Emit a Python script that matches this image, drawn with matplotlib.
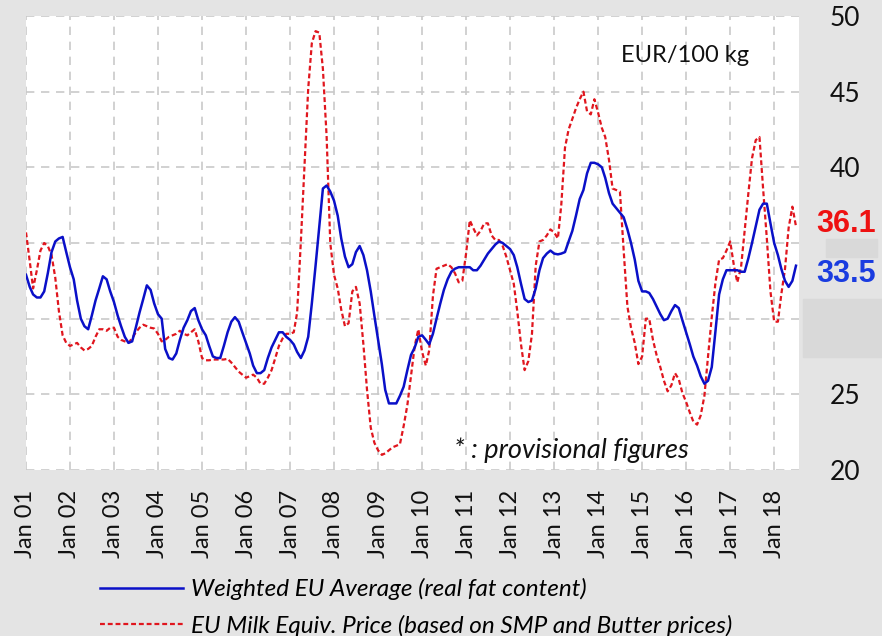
import numpy as np
import pandas as pd
import matplotlib
matplotlib.use("Agg")
import matplotlib.pyplot as plt
import matplotlib.dates as mdates
from matplotlib.patches import Rectangle

# monthly prices, EUR/100 kg, Jan 2001 - Jul 2018
weighted_avg = [
    32.9, 32.1, 31.6, 31.4, 31.4, 31.8, 33.0, 34.4, 35.1, 35.3, 35.4, 34.4,
    33.4, 32.6, 31.2, 30.0, 29.5, 29.3, 30.2, 31.2, 32.0, 32.8, 32.6, 31.8,
    31.1, 30.2, 29.5, 28.8, 28.4, 28.5, 29.4, 30.4, 31.3, 32.2, 31.9, 31.0,
    30.3, 30.0, 28.0, 27.4, 27.3, 27.7, 28.6, 29.4, 29.9, 30.5, 30.7, 29.9,
    29.3, 28.9, 28.2, 27.5, 27.4, 27.4, 28.2, 29.1, 29.8, 30.1, 29.8, 29.1,
    28.4, 27.7, 26.9, 26.4, 26.4, 26.6, 27.4, 28.1, 28.6, 29.1, 29.1, 28.8,
    28.6, 28.3, 27.8, 27.4, 27.9, 28.8, 31.0, 33.5, 36.1, 38.6, 38.8, 38.4,
    37.8, 36.8, 35.3, 34.1, 33.4, 33.6, 34.4, 34.8, 34.2, 33.2, 31.8, 30.2,
    28.6, 27.0, 25.3, 24.4, 24.4, 24.4, 24.9, 25.5, 26.6, 27.6, 28.1, 28.8,
    28.9, 28.6, 28.3, 29.0, 30.0, 31.0, 31.9, 32.6, 33.1, 33.3, 33.4, 33.4,
    33.4, 33.4, 33.2, 33.2, 33.5, 33.9, 34.3, 34.6, 34.9, 35.1, 35.0, 34.8,
    34.6, 34.2, 33.4, 32.3, 31.3, 31.1, 31.2, 32.0, 33.2, 34.0, 34.3, 34.5,
    34.3, 34.25, 34.3, 34.4, 35.1, 35.8, 36.8, 37.9, 38.5, 39.6, 40.3, 40.3,
    40.2, 40.0, 39.3, 38.3, 37.6, 37.3, 37.0, 36.7, 35.9, 35.0, 33.9, 32.5,
    31.8, 31.8, 31.7, 31.3, 30.8, 30.3, 29.9, 30.0, 30.5, 30.9, 30.7, 29.9,
    29.1, 28.3, 27.5, 26.9, 26.2, 25.7, 25.9, 26.8, 29.2, 31.6, 32.6, 33.2,
    33.2, 33.2, 33.2, 33.1, 33.1, 34.0, 35.0, 36.1, 37.2, 37.6, 37.6, 36.3,
    35.0, 34.2, 33.3, 32.5, 32.1, 32.5, 33.5,
]
milk_equiv = [
    35.7, 33.8, 32.0, 33.2, 34.5, 35.0, 34.8, 34.2, 32.7, 30.5, 28.9, 28.4,
    28.2, 28.3, 28.4, 28.1, 27.9, 28.0, 28.2, 28.8, 29.3, 29.3, 29.2, 29.4,
    29.4, 28.8, 28.6, 28.5, 28.4, 28.7, 29.1, 29.4, 29.6, 29.5, 29.4, 29.35,
    29.0, 28.5, 28.6, 28.8, 28.9, 29.0, 29.2, 29.0, 28.9, 29.1, 29.3, 28.5,
    27.4, 27.25, 27.25, 27.3, 27.3, 27.3, 27.3, 27.35, 27.1, 26.8, 26.5, 26.3,
    26.1, 26.2, 26.3, 26.1, 25.7, 25.7, 26.1, 26.6, 27.4, 28.2, 28.7, 29.0,
    29.0, 29.1, 30.4, 35.1, 40.0, 45.2, 48.2, 49.0, 48.9, 46.5, 42.0, 35.0,
    32.9, 32.0, 30.6, 29.5, 29.7, 31.8, 32.1, 31.0, 28.3, 25.3, 22.8, 21.8,
    21.3, 21.0, 21.1, 21.3, 21.5, 21.6, 21.7, 22.9, 24.3, 26.2, 28.2, 29.3,
    27.8, 26.9, 27.9, 31.5, 33.3, 33.4, 33.5, 33.6, 33.4, 33.0, 32.4, 32.5,
    34.3, 36.5, 36.0, 35.5, 35.8, 36.3, 36.3, 35.5, 35.2, 35.2, 34.8, 34.1,
    33.2, 32.3, 30.5, 28.3, 26.6, 27.2, 29.0, 33.5, 35.1, 35.2, 35.5, 35.9,
    35.7, 35.3, 37.5, 41.3, 42.5, 43.2, 43.9, 44.5, 45.0, 43.7, 43.5, 44.5,
    43.6, 42.6, 42.0, 40.5, 38.6, 38.5, 38.4, 34.5, 30.8, 29.4, 28.4, 27.0,
    27.5, 30.0, 30.0, 28.6, 27.6, 26.8, 25.9, 25.2, 25.6, 26.4, 26.0, 25.1,
    24.5, 23.8, 23.2, 23.0, 23.6, 24.9, 27.5, 30.1, 32.4, 33.9, 34.0, 34.5,
    35.1, 33.5, 32.4, 33.4, 35.8, 38.3, 40.6, 41.8, 42.0, 38.6, 35.3, 31.8,
    29.8, 29.8, 31.6, 33.3, 36.0, 37.4, 36.1,
]
months = pd.date_range("2001-01-01", periods=len(weighted_avg), freq="MS")
y_ticks = [20, 25, 30, 35, 40, 45, 50]
# 30 and 35 are hidden behind the end-value boxes in the original
y_tick_labels = ["20", "25", "", "", "40", "45", "50"]

series_labels = ["Weighted EU Average (real fat content)",
                 "EU Milk Equiv. Price (based on SMP and Butter prices)"]

bg = "#e4e4e4"
fig = plt.figure(figsize=(8.82, 6.36), dpi=100, facecolor=bg)

# the two darker patches at the right margin
fig.patches.append(Rectangle((826 / 882, 1 - 257 / 636), 51 / 882, 18 / 636,
                             transform=fig.transFigure, color="#d9d9d9", zorder=0))
fig.patches.append(Rectangle((803 / 882, 1 - 357 / 636), 79 / 882, 58 / 636,
                             transform=fig.transFigure, color="#d9d9d9", zorder=0))

ax = fig.add_axes([26 / 882, 1 - 470 / 636, (799 - 26) / 882, (470 - 16) / 636])
ax.set_facecolor("white")

l1, = ax.plot(months, weighted_avg, color="#0a10c8", lw=1.8, zorder=3)
l2, = ax.plot(months, milk_equiv, color="#e0161e", lw=1.6,
              linestyle=(0, (2.2, 1.3)), zorder=2)

ax.set_ylim(20, 50)
ax.set_xlim(months[0], months[-1] + pd.Timedelta(days=25))
ax.set_yticks(y_ticks)
ax.set_yticklabels(y_tick_labels)
ax.yaxis.tick_right()
ax.xaxis.set_major_locator(mdates.YearLocator())
ax.xaxis.set_major_formatter(mdates.DateFormatter("Jan %y"))

ax.grid(True, color="#c9c9c9", lw=1.2, linestyle=(0, (5, 4)))
for s in ax.spines.values():
    s.set_visible(False)

ax.tick_params(axis="y", length=0, pad=22, labelsize=19, labelcolor="#111111")
ax.tick_params(axis="x", length=0, pad=14, labelsize=17, labelrotation=90,
               labelcolor="#111111")
for lab in ax.get_xticklabels() + ax.get_yticklabels():
    lab.set_fontfamily("Lato")

ax.text(0.853, 0.914, "EUR/100 kg", transform=ax.transAxes, fontsize=17,
        family="Lato", ha="center", va="center", color="#111111")
ax.text(0.705, 0.044, "* : provisional figures", transform=ax.transAxes,
        fontsize=19.5, family="Lato", style="italic", ha="center", va="center",
        color="#111111")

fig.text(846 / 882, 1 - 224 / 636, "36.1", color="#ee1111", fontsize=22,
         fontweight="bold", family="Liberation Sans", ha="center", va="center")
fig.text(846 / 882, 1 - 274 / 636, "33.5", color="#1a3ce0", fontsize=22,
         fontweight="bold", family="Liberation Sans", ha="center", va="center")

fig.legend([l1, l2], series_labels, loc="upper left",
           bbox_to_anchor=(100 / 882, 1 - 578 / 636), frameon=False,
           borderpad=0, borderaxespad=0, handlelength=3.4, handletextpad=0.35,
           labelspacing=0.6,
           prop={"family": "Lato", "style": "italic", "size": 17.5})

fig.savefig("out.png", dpi=100, facecolor=bg)
